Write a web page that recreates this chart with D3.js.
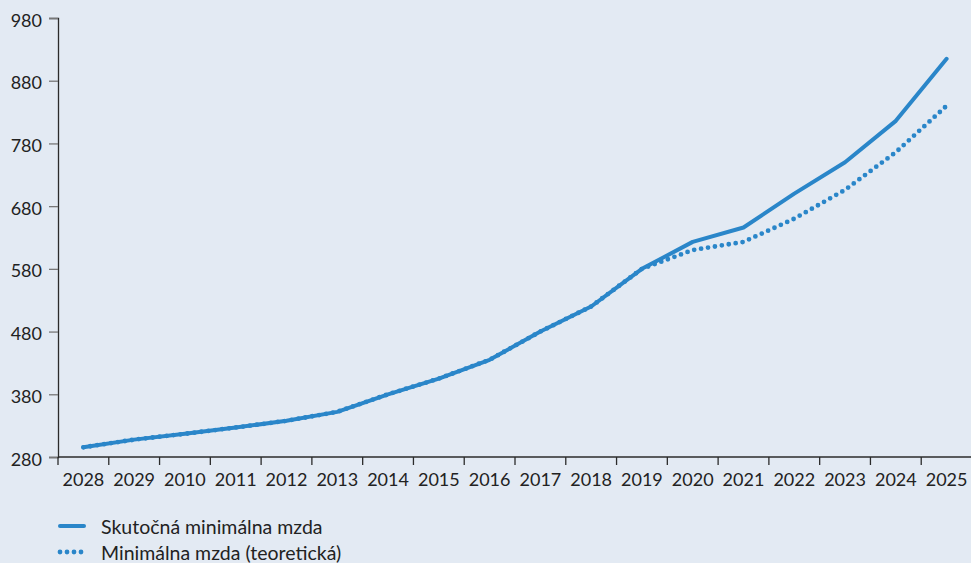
<!DOCTYPE html>
<html>
<head>
<meta charset="utf-8">
<script src="https://cdn.jsdelivr.net/npm/d3@7"></script>
<style>
  html, body { margin: 0; padding: 0; background: #e3eaf3; }
  svg { display: block; font-family: Lato, "Open Sans", sans-serif; }
</style>
</head>
<body>
<svg id="chart" width="971" height="563"></svg>
<script>
// Year labels along the x axis (as published)
const years = ["2028", "2029", "2010", "2011", "2012", "2013", "2014", "2015", "2016",
               "2017", "2018", "2019", "2020", "2021", "2022", "2023", "2024", "2025"];
// Actual minimum wage, EUR
const actualWage = [295.5, 307.7, 317, 327, 337.7, 352, 380, 405, 435,
                    480, 520, 580, 623, 646, 700, 750, 816, 915];
// Theoretical minimum wage, EUR
const theoreticalWage = [295.5, 307.7, 317, 327, 337.7, 352, 380, 405, 435,
                         480, 520, 580, 610, 623, 660, 706, 766, 840];
const yTicks = [280, 380, 480, 580, 680, 780, 880, 980];
const legendLabels = ["Skutočná minimálna mzda", "Minimálna mzda (teoretická)"];

const color = "#2a86c9";
const svg = d3.select("#chart");
const plotLeft = 58, plotRight = 972, plotTop = 18, plotBottom = 457;

const x = d3.scaleBand().domain(years).range([plotLeft, plotRight]);
const y = d3.scaleLinear().domain([280, 980]).range([plotBottom, plotTop]);

// y axis
const yAxis = svg.append("g")
  .attr("transform", `translate(${plotLeft},0)`)
  .call(d3.axisLeft(y).tickValues(yTicks).tickSize(9).tickSizeOuter(9).tickPadding(7));
yAxis.select(".domain").attr("stroke", "#2b2b2b").attr("stroke-width", 1.3);
yAxis.selectAll(".tick line").attr("stroke", "#777").attr("stroke-width", 1.3);
yAxis.selectAll(".tick text").attr("font-size", 18).attr("fill", "#222")
  .attr("dy", "0.45em")
  .attr("font-family", "Lato, 'Open Sans', sans-serif");

// x axis: ticks sit on band boundaries, labels at band centres
const xg = svg.append("g").attr("transform", `translate(0,${plotBottom})`);
xg.append("line").attr("x1", plotLeft).attr("x2", plotRight).attr("stroke", "#2b2b2b").attr("stroke-width", 1.3);
xg.selectAll("line.tk").data(years).join("line").attr("class", "tk")
  .attr("x1", d => x(d)).attr("x2", d => x(d))
  .attr("y1", 0).attr("y2", 8)
  .attr("stroke", "#2b2b2b").attr("stroke-width", 1.3);
xg.selectAll("text").data(years).join("text")
  .attr("x", d => x(d) + x.bandwidth() / 2)
  .attr("y", 29)
  .attr("text-anchor", "middle")
  .attr("font-size", 18).attr("fill", "#222")
  .text(d => d);

const line = d3.line()
  .x((d, i) => x(years[i]) + x.bandwidth() / 2)
  .y(d => y(d));

// theoretical series, dotted
svg.append("path").datum(theoreticalWage)
  .attr("d", line).attr("fill", "none")
  .attr("stroke", color).attr("stroke-width", 4.8)
  .attr("stroke-linecap", "round").attr("stroke-dasharray", "0 7");

// actual series, solid
svg.append("path").datum(actualWage)
  .attr("d", line).attr("fill", "none")
  .attr("stroke", color).attr("stroke-width", 4)
  .attr("stroke-linecap", "round").attr("stroke-linejoin", "round");

// legend
const lg = svg.append("g");
const rows = [{ label: legendLabels[0], dash: null, y: 526 },
              { label: legendLabels[1], dash: "0 7", y: 552 }];
rows.forEach(r => {
  lg.append("line").attr("x1", 60).attr("x2", 84).attr("y1", r.y).attr("y2", r.y)
    .attr("stroke", color).attr("stroke-width", r.dash ? 4.8 : 4)
    .attr("stroke-linecap", "round")
    .attr("stroke-dasharray", r.dash);
  lg.append("text").attr("x", 101).attr("y", r.y).attr("dy", "0.4em")
    .attr("font-size", 19.5).attr("fill", "#222").text(r.label);
});
</script>
</body>
</html>
